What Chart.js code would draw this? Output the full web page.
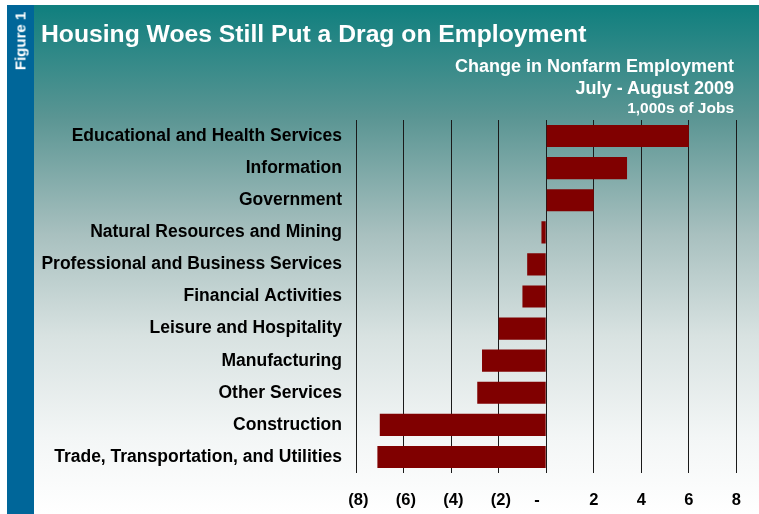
<!DOCTYPE html>
<html>
<head>
<meta charset="utf-8">
<script src="https://cdn.jsdelivr.net/npm/chart.js@4"></script>
<style>
  body { margin:0; width:759px; height:514px; background:#fff; position:relative; overflow:hidden;
         font-family:'Liberation Sans', Arial, sans-serif; font-weight:bold; }
  #stripe { position:absolute; left:7px; top:5px; width:27px; height:509px; background:#006699; }
  #panel { position:absolute; left:34px; top:5px; width:725px; height:509px;
           background:linear-gradient(to bottom, #0f7f7e 0%, #5a9593 22%, #a8c0bf 45%, #d8e2e1 65%, #f3f6f6 85%, #ffffff 100%); }
  #chart { position:absolute; left:0; top:0; }
  .txt { position:absolute; color:#fff; line-height:1; white-space:nowrap; z-index:2; }
  #fig { left:20px; top:41px; font-size:15px; transform:translate(-50%,-50%) rotate(-90deg); }
  #title { left:41px; top:22.4px; font-size:24.7px; }
  .sub { right:25px; text-align:right; }
</style>
</head>
<body>
<div id="stripe"></div>
<div id="panel"></div>
<div class="txt" id="fig">Figure 1</div>
<div class="txt" id="title">Housing Woes Still Put a Drag on Employment</div>
<div class="txt sub" style="top:56.5px;font-size:18px">Change in Nonfarm Employment</div>
<div class="txt sub" style="top:79.1px;font-size:18px">July - August 2009</div>
<div class="txt sub" style="top:100.2px;font-size:15.5px">1,000s of Jobs</div>
<canvas id="chart" width="759" height="514"></canvas>
<script>
// sectors, top to bottom
const sectors = [
  'Educational and Health Services',
  'Information',
  'Government',
  'Natural Resources and Mining',
  'Professional and Business Services',
  'Financial Activities',
  'Leisure and Hospitality',
  'Manufacturing',
  'Other Services',
  'Construction',
  'Trade, Transportation, and Utilities'
];
// change in jobs, 1,000s
const jobChange = [6.0, 3.4, 2.0, -0.2, -0.8, -1.0, -2.0, -2.7, -2.9, -7.0, -7.1];
const xTickLabels = ['(8)', '(6)', '(4)', '(2)', '-', '2', '4', '6', '8'];

const fontFamily = "'Liberation Sans', Arial, sans-serif";

new Chart(document.getElementById('chart').getContext('2d'), {
  type: 'bar',
  data: {
    labels: sectors,
    datasets: [{
      data: jobChange,
      backgroundColor: '#800000',
      barPercentage: 0.69,
      categoryPercentage: 1
    }]
  },
  options: {
    indexAxis: 'y',
    responsive: false,
    animation: false,
    layout: { padding: { left: 0, right: 19, top: 120, bottom: 0 } },
    plugins: { legend: { display: false }, tooltip: { enabled: false } },
    scales: {
      x: {
        min: -8, max: 8,
        ticks: {
          stepSize: 2,
          autoSkip: false,
          maxRotation: 0,
          padding: 18,
          color: '#000',
          font: { family: fontFamily, size: 16.5, weight: 'bold' },
          // accounting style: parens sit a touch right, the dash sits left
          callback: (v, i) => {
            const lbl = xTickLabels[i];
            if (v < 0) return ' ' + lbl;
            if (v === 0) return lbl + '    ';
            return lbl;
          }
        },
        grid: { color: '#1a1a1a', lineWidth: 1, drawTicks: false },
        border: { display: false },
        afterFit: s => { s.height = 41; }
      },
      y: {
        ticks: {
          autoSkip: false,
          padding: 14,
          color: '#000',
          font: { family: fontFamily, size: 17.5, weight: 'bold' }
        },
        grid: { display: false, drawTicks: false },
        border: { display: false },
        afterFit: s => { s.width = 356; }
      }
    }
  }
});
</script>
</body>
</html>
